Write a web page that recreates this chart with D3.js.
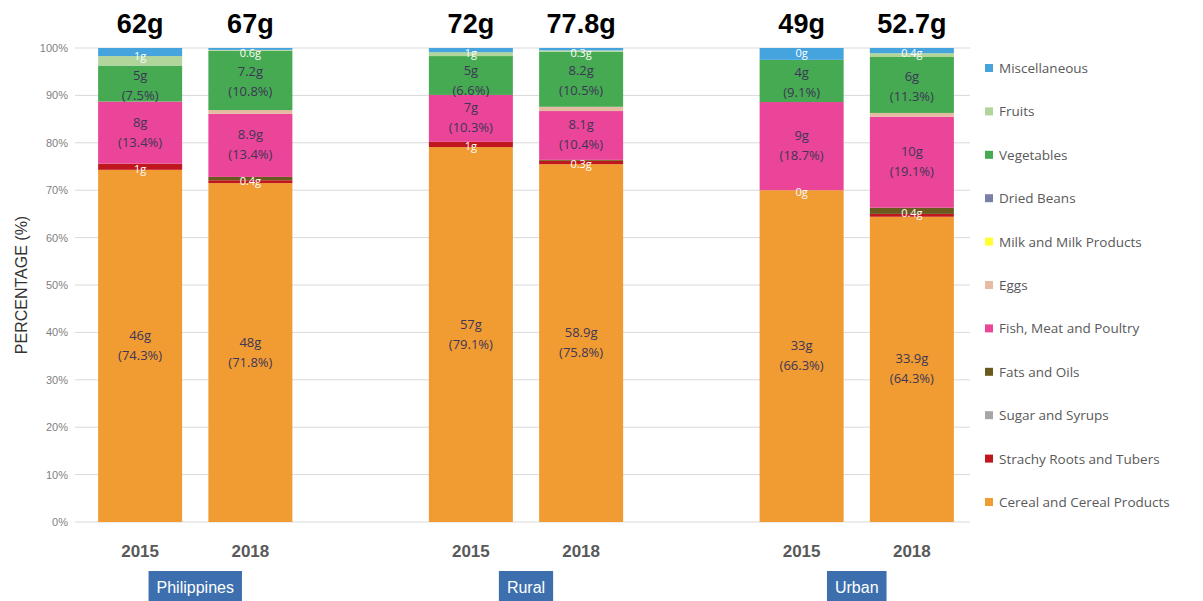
<!DOCTYPE html>
<html><head><meta charset="utf-8">
<script src="https://cdn.jsdelivr.net/npm/d3@7"></script>
<style>body{margin:0;background:#fff;} svg{display:block;}</style>
</head><body>
<svg id="c" width="1203" height="601"></svg>
<script>
// ---- data ----
const bars = ["PH2015","PH2018","R2015","R2018","U2015","U2018"];
const years = ["2015","2018","2015","2018","2015","2018"];
const totals = ["62g","67g","72g","77.8g","49g","52.7g"];
const groups = ["Philippines","Rural","Urban"];
const seriesNames = ["Cereal and Cereal Products","Strachy Roots and Tubers","Sugar and Syrups","Fats and Oils","Fish, Meat and Poultry","Eggs","Milk and Milk Products","Dried Beans","Vegetables","Fruits","Miscellaneous"];
const cereal  = [74.3, 71.5, 79.1, 75.5, 70.0, 64.4];
const starchy = [1.3, 0.6, 1.1, 0.7, 0.0, 0.6];
const sugar   = [0, 0, 0, 0, 0, 0];
const fats    = [0, 0.7, 0, 0.2, 0, 1.3];
const fish    = [13.1, 13.3, 9.9, 10.3, 18.6, 19.2];
const eggs    = [0, 0.8, 0, 0.9, 0, 0.8];
const milk    = [0, 0, 0, 0, 0, 0];
const beans   = [0, 0, 0, 0, 0, 0];
const veg     = [7.6, 12.5, 8.2, 11.6, 8.9, 11.8];
const fruits  = [2.0, 0.2, 0.8, 0.3, 0, 0.8];
const misc    = [1.7, 0.4, 0.9, 0.5, 2.5, 1.1];
const colors  = ["#f19c33","#c0161e","#a6a6a6","#6b5a1e","#ea4598","#e6bba3","#ffff33","#7b7fa8","#45aa51","#b2d59b","#45a3de"];
const cerealG = ["46g","48g","57g","58.9g","33g","33.9g"];
const cerealP = ["(74.3%)","(71.8%)","(79.1%)","(75.8%)","(66.3%)","(64.3%)"];
const fishG   = ["8g","8.9g","7g","8.1g","9g","10g"];
const fishP   = ["(13.4%)","(13.4%)","(10.3%)","(10.4%)","(18.7%)","(19.1%)"];
const vegG    = ["5g","7.2g","5g","8.2g","4g","6g"];
const vegP    = ["(7.5%)","(10.8%)","(6.6%)","(10.5%)","(9.1%)","(11.3%)"];
const lowSmall = ["1g","0.4g","1g","0.3g","0g","0.4g"];
const lowSeries = [1,3,1,1,1,3];
const topSmall = ["1g","0.6g","1g","0.3g","0g","0.4g"];
const yTicks = [0,10,20,30,40,50,60,70,80,90,100];

const seriesVals = [cereal,starchy,sugar,fats,fish,eggs,milk,beans,veg,fruits,misc];
const table = bars.map((b,i)=>{const o={bar:b}; seriesNames.forEach((s,k)=>o[s]=seriesVals[k][i]); return o;});
const stack = d3.stack().keys(seriesNames)(table);

const svg = d3.select("#c");
const y = d3.scaleLinear().domain([0,100]).range([522,48]);
const slots = ["PH2015","PH2018","gap1","R2015","R2018","gap2","U2015","U2018"];
const x = d3.scaleBand().domain(slots).range([85,967]).paddingInner(0.238).paddingOuter(0.119);
const bw = x.bandwidth();

// grid
svg.append("g").selectAll("line").data(yTicks).join("line")
  .attr("x1",75).attr("x2",970).attr("y1",d=>y(d)).attr("y2",d=>y(d))
  .attr("stroke","#d9d9d9").attr("stroke-width",1);
// y axis labels
const ya = svg.append("g").attr("transform","translate(70,0)")
  .call(d3.axisLeft(y).tickValues(yTicks).tickFormat(d=>d+"%").tickSize(0).tickPadding(2));
ya.select(".domain").remove();
ya.selectAll("text").attr("font-family","Liberation Sans, Arial").attr("font-size",11).attr("fill","#7f7f7f");
svg.append("text").attr("transform","translate(27,285) rotate(-90)").attr("text-anchor","middle")
  .attr("font-family","Liberation Sans, Arial").attr("font-size",16).attr("fill","#333").text("PERCENTAGE (%)");

// bars
svg.append("g").selectAll("g").data(stack).join("g").attr("fill",(d,i)=>colors[i])
  .selectAll("rect").data(d=>d).join("rect")
  .attr("x",d=>x(d.data.bar)).attr("width",bw)
  .attr("y",d=>y(d[1])).attr("height",d=>Math.max(0,y(d[0])-y(d[1])));

const lf = "Open Sans, Liberation Sans, Arial";
const topBase = bars.map((b,i)=>{const f=stack[9][i], m=stack[10][i]; return Math.max((y(f[0])+y(m[1]))/2+3,57);});
function twoLine(sIdx, gArr, pArr, dy, minFirst){
  bars.forEach((b,i)=>{
    const s = stack[sIdx][i]; const cx = x(b)+bw/2;
    let first = (y(s[0])+y(s[1]))/2 + dy - 6;
    if (minFirst) first = Math.max(first, minFirst[i]);
    const t = svg.append("text").attr("text-anchor","middle").attr("font-family",lf).attr("font-size",13).attr("fill","#3d3656");
    t.append("tspan").attr("x",cx).attr("y",first).text(gArr[i]);
    t.append("tspan").attr("x",cx).attr("y",first+20).text(pArr[i]);
  });
}
twoLine(0,cerealG,cerealP,0);
twoLine(4,fishG,fishP,0);
twoLine(8,vegG,vegP,2,topBase.map(v=>v+18));
bars.forEach((b,i)=>{
  const cx = x(b)+bw/2;
  const s = stack[lowSeries[i]][i]; const cy=(y(s[0])+y(s[1]))/2;
  svg.append("text").attr("x",cx).attr("y",cy+6).attr("text-anchor","middle").attr("font-family",lf).attr("font-size",11).attr("fill","#fff").text(lowSmall[i]);
  svg.append("text").attr("x",cx).attr("y",topBase[i]).attr("text-anchor","middle").attr("font-family",lf).attr("font-size",11).attr("fill","#fff").text(topSmall[i]);
  svg.append("text").attr("x",cx).attr("y",33).attr("text-anchor","middle").attr("font-family","Liberation Sans, Arial").attr("font-weight","bold").attr("font-size",27).attr("fill","#000").text(totals[i]);
  svg.append("text").attr("x",cx).attr("y",557).attr("text-anchor","middle").attr("font-family","Liberation Sans, Arial").attr("font-weight","bold").attr("font-size",17).attr("fill","#595959").text(years[i]);
});
// group boxes
groups.forEach((g,k)=>{
  const cx = (x(bars[2*k])+x(bars[2*k+1])+bw)/2;
  const gg = svg.append("g");
  const r = gg.append("rect").attr("y",571).attr("height",32).attr("fill","#3d6fae");
  const t = gg.append("text").attr("x",cx).attr("y",593).attr("text-anchor","middle").attr("font-family","Liberation Sans Narrow, Liberation Sans, Arial").attr("font-size",16).attr("fill","#fff").text(g);
  const w = t.node().getComputedTextLength()+16;
  r.attr("x",cx-w/2).attr("width",w);
});
// legend
const legendOrder = seriesNames.slice().reverse();
const lg = svg.append("g").selectAll("g").data(legendOrder).join("g")
  .attr("transform",(d,i)=>`translate(985,${69+i*43.4})`);
lg.append("rect").attr("x",0).attr("y",-5).attr("width",8).attr("height",8).attr("fill",d=>colors[seriesNames.indexOf(d)]);
lg.append("text").attr("x",14).attr("y",4).attr("font-family","Open Sans, Liberation Sans, Arial").attr("font-size",13.5).attr("fill","#595959").text(d=>d);
</script>
</body></html>
